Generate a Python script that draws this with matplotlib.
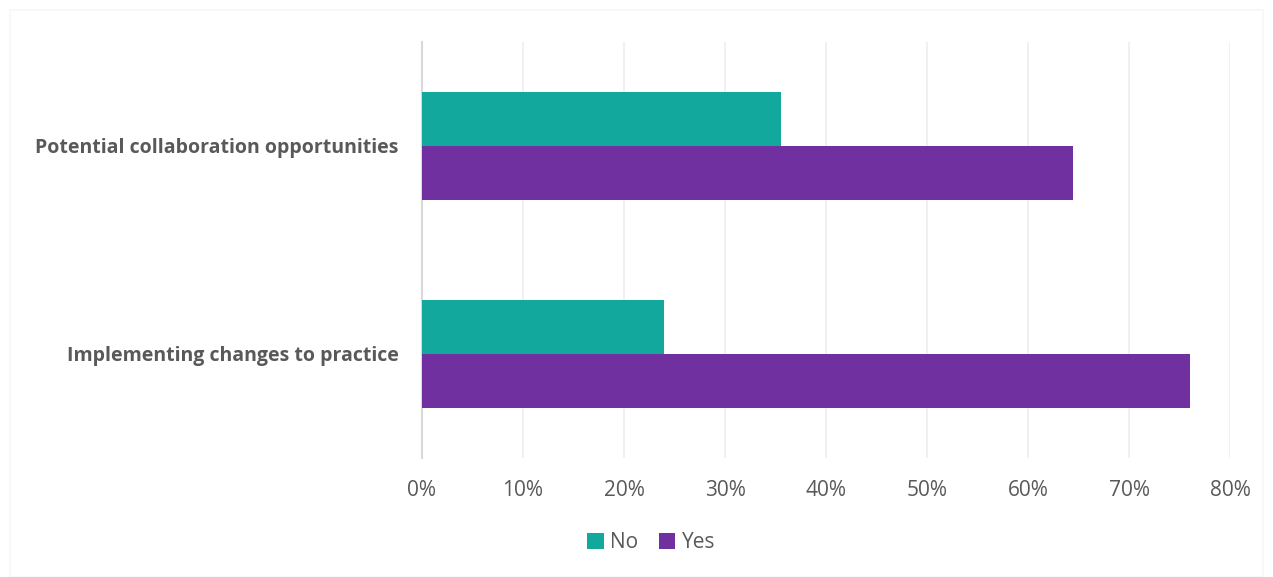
import numpy as np
import matplotlib.pyplot as plt
from matplotlib.patches import Rectangle
from matplotlib.ticker import PercentFormatter

plt.rcParams['font.family'] = ['Open Sans', 'DejaVu Sans']

# Survey answers (share of respondents)
categories = ['Implementing changes to practice', 'Potential collaboration opportunities']
no_vals = [0.24, 0.355]
yes_vals = [0.76, 0.645]

teal = '#13A89E'
purple = '#7030A0'
grey_text = '#595959'

fig = plt.figure(figsize=(12.73, 5.77), dpi=100)
ax = fig.add_axes([422 / 1273, 1 - 458 / 577, (1230 - 422) / 1273, (458 - 42) / 577])

# faint outer frame
fig.patches.append(Rectangle((10 / 1273, 0), 1 - 20 / 1273, 1 - 10 / 577,
                             transform=fig.transFigure, fill=False,
                             edgecolor='#F7F7F7', linewidth=1.2))

y = np.arange(len(categories))
h = 0.26
ax.barh(y + h / 2, no_vals, height=h, color=teal, label='No', zorder=3)
ax.barh(y - h / 2, yes_vals, height=h, color=purple, label='Yes', zorder=3)

ax.set_xlim(0, 0.8)
ax.set_ylim(-0.5, 1.5)
ax.set_xticks(np.arange(0, 0.81, 0.1))
ax.xaxis.set_major_formatter(PercentFormatter(1.0, decimals=0))
ax.set_yticks(y)
ax.set_yticklabels(categories, fontsize=14, fontweight='bold', color=grey_text)
ax.tick_params(axis='x', length=0, labelsize=15, labelcolor=grey_text, pad=16)
ax.tick_params(axis='y', length=0, pad=17)

ax.grid(axis='x', color='#EEEEEE', linewidth=1.2, zorder=0)
for side in ['top', 'right', 'bottom']:
    ax.spines[side].set_visible(False)
ax.spines['left'].set_color('#D9D9D9')
ax.spines['left'].set_linewidth(1.5)

fig.legend(loc='center', bbox_to_anchor=(651 / 1273, 1 - 543 / 577), ncol=2,
           frameon=False, fontsize=15, labelcolor=grey_text,
           handlelength=0.8, handleheight=0.8, handletextpad=0.3,
           columnspacing=1.0)

fig.savefig('out.png', dpi=100, facecolor='white')
